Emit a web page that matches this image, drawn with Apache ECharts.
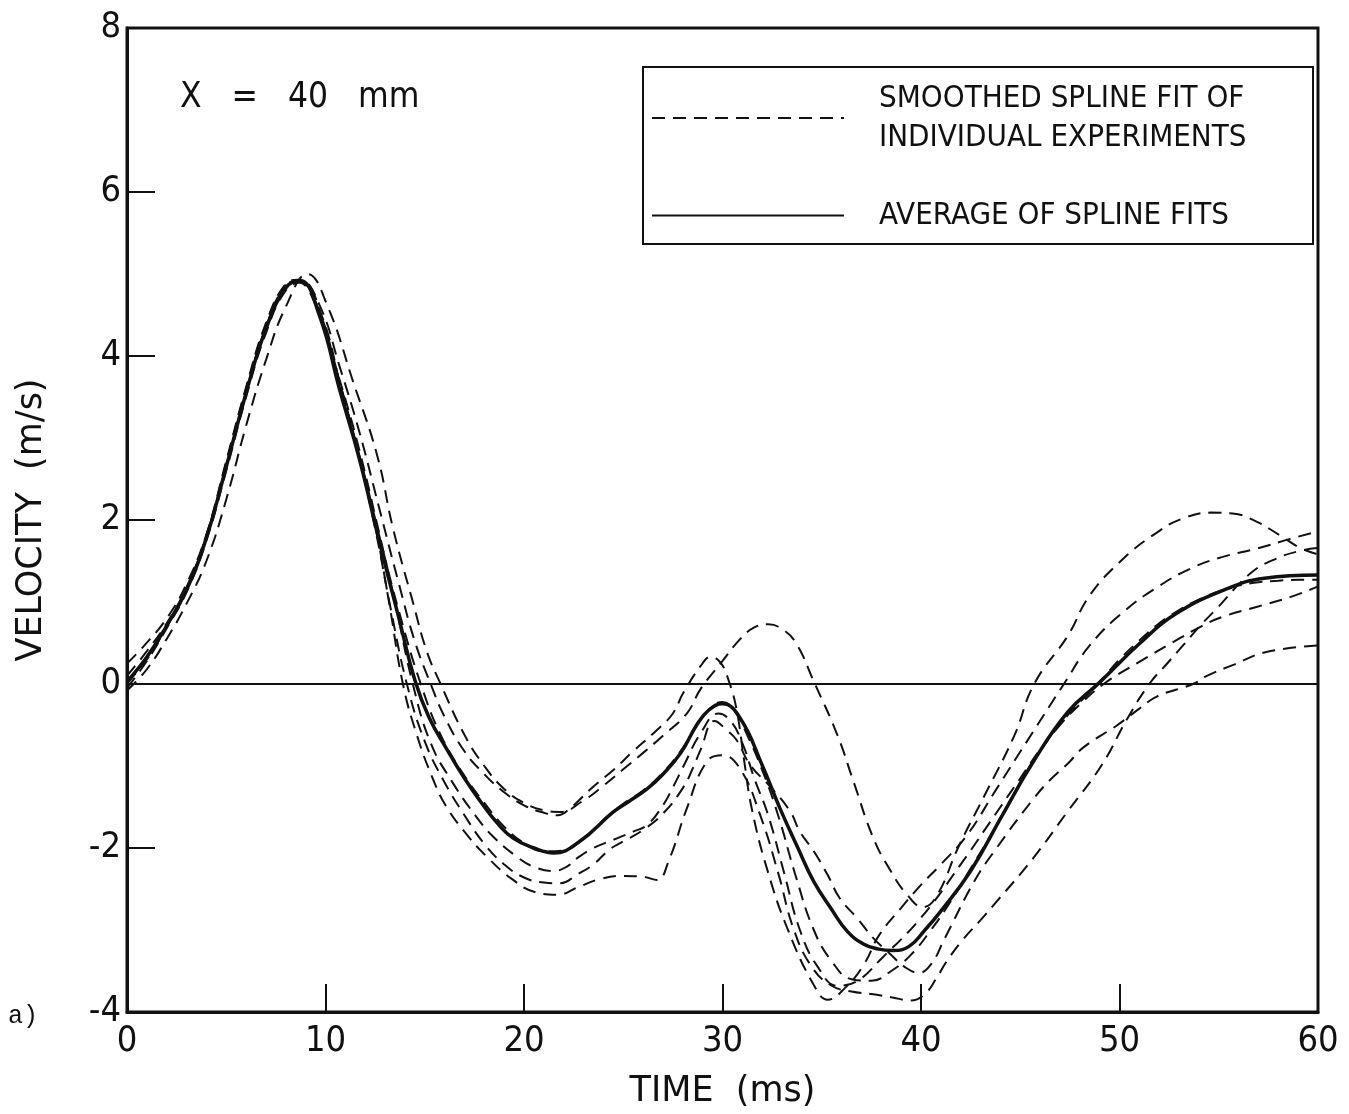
<!DOCTYPE html>
<html><head><meta charset="utf-8">
<script src="https://cdn.jsdelivr.net/npm/echarts@6/dist/echarts.min.js"></script>
<style>html,body{margin:0;padding:0;background:#fff}#c{width:1349px;height:1114px}</style>
</head><body><div id="c"></div>
<script>
const FONT = '"Liberation Sans Narrow","DejaVu Sans Condensed","Liberation Sans",sans-serif';
const FONT_WIDE = '"DejaVu Sans","Liberation Sans",sans-serif';

// Average of spline fits (solid)
const averageFit = [[0,0.03],[1,0.33],[2,0.71],[3,1.15],[4,1.78],[5,2.65],[6,3.55],[7,4.33],[8,4.83],[8.7,4.92],[9.7,4.49],[10.7,3.6],[11.7,2.75],[12.7,1.75],[13.7,0.8],[14.5,0.05],[15.2,-0.4],[16.1,-0.79],[17,-1.15],[17.8,-1.43],[18.6,-1.68],[19.45,-1.88],[20.5,-2.0],[21.5,-2.06],[22.8,-1.92],[24.5,-1.56],[25.3,-1.43],[26.2,-1.28],[27,-1.1],[27.9,-0.84],[28.7,-0.5],[29.3,-0.32],[30,-0.24],[30.9,-0.42],[32,-0.99],[32.9,-1.52],[33.8,-2.0],[34.6,-2.41],[35.5,-2.75],[36.3,-3.02],[37.1,-3.17],[37.8,-3.23],[38.6,-3.25],[39.4,-3.2],[40.2,-3.0],[41,-2.77],[42.5,-2.28],[44.1,-1.6],[45.6,-0.97],[47.4,-0.34],[49,0.02],[51,0.49],[52.8,0.85],[55.5,1.17],[57.3,1.29],[60,1.33]];

// Smoothed spline fits of individual experiments (dashed)
const exp1 = [[0,-0.08],[1,0.18],[2,0.55],[3,0.98],[4,1.5],[5,2.25],[6,3.15],[7,3.95],[8,4.6],[9.1,5.0],[10.1,4.61],[11.4,3.68],[12.6,2.79],[13.4,1.9],[14.4,1.0],[15.1,0.4],[15.8,0.0],[17,-0.62],[18,-1.0],[19,-1.28],[20,-1.45],[21,-1.54],[21.8,-1.56],[23,-1.42],[24,-1.24],[25,-1.04],[26,-0.84],[27,-0.63],[28.2,-0.36],[28.9,-0.06],[29.9,0.25],[30.9,0.55],[31.6,0.69],[32.3,0.73],[33,0.67],[33.7,0.5],[34.6,0.03],[35.8,-0.63],[36.6,-1.19],[37.6,-1.88],[38.4,-2.25],[39.3,-2.57],[40.1,-2.72],[40.8,-2.58],[41.9,-1.98],[43.2,-1.36],[44.7,-0.63],[45.7,0],[47.4,0.59],[48.5,1.08],[50.2,1.53],[51.9,1.85],[53.2,2.02],[54.6,2.09],[55.7,2.08],[56.9,1.98],[58.1,1.81],[59.1,1.66],[60,1.58]];
const exp2 = [[0,0.25],[0.8,0.45],[2,0.8],[3,1.22],[4,1.82],[5,2.66],[6,3.56],[7,4.35],[8,4.85],[8.7,4.93],[9.7,4.62],[10.7,3.88],[11.7,3.08],[12.7,2.15],[13.7,1.22],[14.5,0.52],[15.3,0.0],[16,-0.4],[17,-0.82],[18,-1.1],[19,-1.32],[20,-1.48],[21,-1.57],[21.7,-1.6],[22.3,-1.52],[23.5,-1.25],[24.5,-1.05],[25.5,-0.82],[26.7,-0.56],[27.5,-0.36],[28,-0.12],[28.9,0.22],[29.4,0.33],[29.9,0.26],[30.3,0.05],[30.7,-0.3],[31.1,-0.95],[31.5,-1.55],[32.3,-2.3],[33.3,-3.0],[34.6,-3.67],[35.3,-3.85],[36.2,-3.7],[37.1,-3.43],[37.9,-3.06],[39,-2.73],[40,-2.45],[41,-2.2],[42.3,-1.85],[43.75,-1.3],[45.6,-0.6],[47.2,0],[48.5,0.47],[50.2,0.88],[51.9,1.18],[53.6,1.41],[55.2,1.55],[56.9,1.65],[58.6,1.77],[60,1.86]];
const exp3 = [[0,0.0],[1,0.32],[2,0.72],[3,1.17],[4,1.82],[5,2.72],[6,3.62],[7,4.4],[8,4.88],[8.6,4.93],[9.4,4.72],[10.4,3.95],[11.4,3.05],[12.4,2.05],[13.2,1.0],[13.9,0.0],[14.6,-0.62],[15.4,-1.15],[16.1,-1.5],[17.2,-1.86],[18.1,-2.1],[19.4,-2.38],[20.6,-2.54],[21.7,-2.57],[22.7,-2.48],[23.8,-2.38],[25,-2.34],[26,-2.35],[26.7,-2.39],[27.3,-2.15],[28.2,-1.52],[29.2,-0.95],[30,-0.87],[30.9,-1.04],[31.9,-1.6],[32.8,-2.3],[33.6,-3.0],[34.5,-3.45],[35.5,-3.68],[36.5,-3.75],[37.5,-3.78],[38.5,-3.82],[39.5,-3.86],[40.2,-3.78],[40.8,-3.58],[41.3,-3.38],[42.1,-3.12],[43,-2.88],[43.75,-2.67],[45.6,-2.14],[47.4,-1.55],[49.1,-0.99],[50.4,-0.42],[51.5,0],[52.4,0.25],[53.2,0.47],[54.1,0.72],[54.9,0.92],[56.6,1.35],[57.9,1.53],[59.2,1.63],[60,1.66]];
const exp4 = [[0,0.1],[1,0.4],[2,0.74],[3,1.18],[4,1.8],[5,2.66],[6,3.56],[7,4.35],[8,4.85],[8.7,4.9],[9.6,4.6],[10.6,3.8],[11.6,2.95],[12.6,1.95],[13.5,1.0],[14.4,0.0],[15.3,-0.72],[16.4,-1.2],[17.6,-1.62],[18.4,-1.85],[19.6,-2.1],[20.5,-2.23],[21.5,-2.28],[22.2,-2.22],[22.7,-2.12],[23.5,-2.0],[24.5,-1.9],[25.5,-1.8],[26.2,-1.72],[27,-1.48],[27.5,-1.26],[28,-1.02],[28.9,-0.6],[29.8,-0.36],[30.4,-0.45],[31,-0.72],[31.6,-1.15],[32.3,-1.6],[33.1,-2.3],[33.9,-3.0],[34.8,-3.45],[35.8,-3.68],[36.8,-3.62],[38,-3.35],[40,-2.85],[42,-2.2],[44,-1.5],[45,-1.15],[46,-0.8],[47,-0.5],[48,-0.25],[49.2,0],[51,0.27],[52.7,0.51],[54.1,0.7],[55.2,0.82],[56.9,0.94],[58.6,1.06],[60,1.19]];
const exp5 = [[0,0.02],[1,0.3],[2,0.7],[3,1.15],[4,1.8],[5,2.7],[6,3.6],[7,4.38],[8,4.86],[8.6,4.9],[9.5,4.62],[10.5,3.85],[11.5,2.95],[12.5,1.9],[13.3,0.9],[14.1,0.0],[15,-0.7],[16,-1.2],[17,-1.6],[18,-1.95],[19,-2.2],[20,-2.36],[21,-2.42],[21.8,-2.43],[22.7,-2.32],[23.5,-2.2],[24.3,-2.02],[25,-1.92],[26,-1.78],[27,-1.58],[28,-1.27],[28.5,-1.03],[28.9,-0.8],[29.6,-0.45],[30.2,-0.56],[30.7,-0.68],[31.4,-0.99],[32.4,-1.25],[33.4,-1.55],[33.9,-1.8],[34.6,-2.04],[35.3,-2.33],[35.9,-2.61],[36.8,-2.86],[37.6,-3.1],[38.3,-3.26],[39.3,-3.47],[39.9,-3.52],[40.5,-3.42],[41.2,-3.1],[42.7,-2.4],[43.75,-2.02],[45.6,-1.42],[46.5,-1.17],[47.4,-0.97],[48.2,-0.77],[49.9,-0.5],[51,-0.3],[51.9,-0.15],[53.7,0],[54.4,0.1],[55.7,0.23],[57.4,0.39],[60,0.47]];
const exp6 = [[0,-0.05],[1,0.28],[2,0.68],[3,1.12],[4,1.75],[5,2.6],[6,3.5],[7,4.28],[8,4.8],[8.8,4.9],[9.8,4.5],[10.8,3.6],[11.8,2.7],[12.8,1.72],[13.8,0.8],[14.8,0.0],[15.8,-0.62],[17,-1.12],[18,-1.45],[19,-1.74],[20,-1.94],[21,-2.04],[22,-2.03],[23,-1.88],[24,-1.66],[25,-1.46],[26,-1.3],[27,-1.08],[28,-0.78],[29,-0.4],[30,-0.22],[30.6,-0.32],[31.2,-0.6],[32,-1.05],[32.8,-1.6],[33.7,-2.35],[34.6,-3.0],[35.5,-3.38],[36.5,-3.6],[37.5,-3.62],[38.5,-3.5],[39.5,-3.3],[40.5,-3.0],[41.5,-2.65],[42.5,-2.25],[43.5,-1.85],[44.5,-1.42],[45.5,-1.0],[46.5,-0.65],[47.5,-0.35],[48.5,-0.1],[49.2,0.08],[50,0.3],[51,0.53],[52,0.74],[53,0.9],[54,1.03],[55,1.13],[56,1.2],[57,1.24],[58,1.26],[59,1.27],[60,1.27]];

const experiments = [exp1, exp2, exp3, exp4, exp5, exp6];
const dashedName = 'SMOOTHED SPLINE FIT OF\nINDIVIDUAL EXPERIMENTS';
const avgName = 'AVERAGE OF SPLINE FITS';

const chart = echarts.init(document.getElementById('c'), null, {renderer: 'canvas'});
const INK = '#111';

const dashedSeries = experiments.map(d => ({
  name: dashedName, type: 'line', data: d, symbol: 'none', showSymbol: false,
  smooth: 0.45, z: 2,
  itemStyle: {color: INK},
  lineStyle: {color: INK, width: 2, type: [13, 8]}
}));

const option = {
  animation: false,
  backgroundColor: '#fff',
  grid: {left: 127, top: 28, width: 1191, height: 985, show: true, borderColor: INK, borderWidth: 3, backgroundColor: 'transparent'},
  xAxis: {
    type: 'value', min: 0, max: 60, interval: 10,
    axisLine: {show: true, onZero: false, lineStyle: {color: INK, width: 3}},
    axisTick: {show: true, inside: true, length: 28, lineStyle: {color: INK, width: 2}},
    axisLabel: {fontSize: 36, fontFamily: FONT, color: INK, margin: 12},
    splitLine: {show: false},
    name: 'TIME  (ms)', nameLocation: 'middle', nameGap: 62,
    nameTextStyle: {fontSize: 35, fontFamily: FONT_WIDE, color: INK}
  },
  yAxis: {
    type: 'value', min: -4, max: 8, interval: 2,
    axisLine: {show: true, onZero: false, lineStyle: {color: INK, width: 3}},
    axisTick: {show: true, inside: true, length: 28, lineStyle: {color: INK, width: 2}},
    axisLabel: {fontSize: 36, fontFamily: FONT, color: INK, margin: 6},
    splitLine: {show: false},
    name: 'VELOCITY  (m/s)', nameLocation: 'middle', nameGap: 78, nameRotate: 90,
    nameTextStyle: {fontSize: 35, fontFamily: FONT_WIDE, color: INK}
  },
  legend: {
    orient: 'vertical', left: 643, top: 67,
    padding: [12, 54, 9, 8],
    itemWidth: 192, itemHeight: 20, itemGap: 39,
    borderColor: INK, borderWidth: 2, backgroundColor: '#fff',
    selectedMode: false,
    itemStyle: {opacity: 0},
    data: [dashedName, avgName],
    textStyle: {fontFamily: FONT, fontSize: 31, lineHeight: 39, color: INK, width: 380, padding: [0, 0, 0, 30]}
  },
  graphic: [
    {type: 'text', left: 180, top: 80, style: {text: 'X   =   40   mm', font: '35px ' + FONT, fill: INK}},
    {type: 'text', left: 8, top: 1004, style: {text: 'a)', font: '25px "Liberation Mono","DejaVu Sans Mono",monospace', fill: INK}}
  ],
  series: dashedSeries.concat([{
    name: avgName, type: 'line', data: averageFit, symbol: 'none', showSymbol: false,
    smooth: 0.45, z: 3,
    itemStyle: {color: INK},
    lineStyle: {color: INK, width: 3.5, type: 'solid'},
    markLine: {silent: true, symbol: ['none', 'none'], label: {show: false},
      lineStyle: {color: INK, width: 2, type: 'solid'}, data: [{yAxis: 0}]}
  }])
};
chart.setOption(option);
</script>
</body></html>
